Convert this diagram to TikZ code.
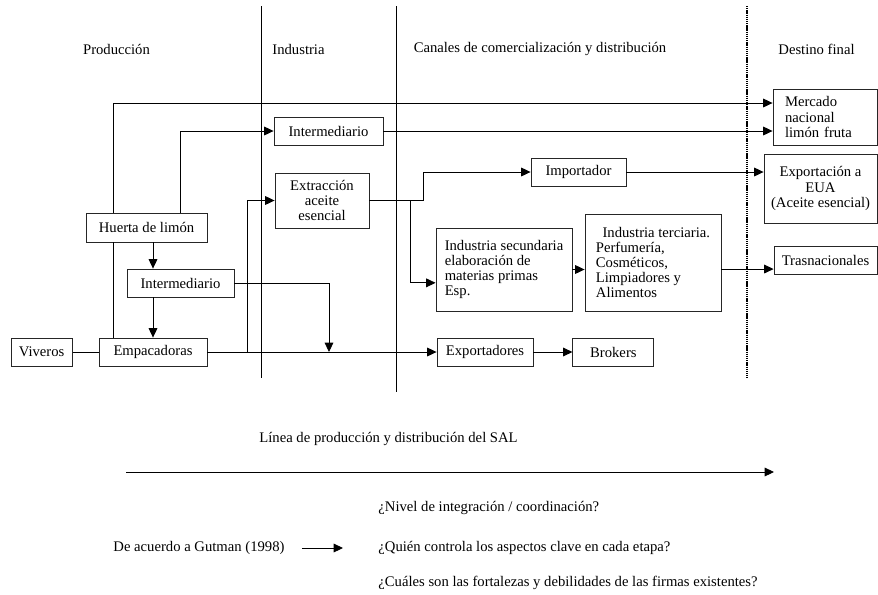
\documentclass[tikz,border=0pt]{standalone}
\usepackage{fontspec}
\setmainfont{Liberation Serif}
\usetikzlibrary{arrows.meta,
calc,
positioning}

\begin{document}
\begin{tikzpicture} [x = 0.75pt, y = -0.75pt,
  >={Triangle[width = 6.5pt, length = 7pt]},
  line width = 0.65pt,
  font = \fontsize{11}{11.3}\selectfont,
  box/.style={rectangle, draw = black!85, fill = white,
      inner sep = 2pt, minimum height = 21pt},
  multi/.style={box, align = left},
  lbl/.style={inner sep = 0pt, anchor = west}]

  \useasboundingbox (0,0) rectangle (878,594);

  % etapas
  \node [] (prod) at (116.5,49) {Producción};
  \node [] (ind) at (298.5,49) {Industria};
  \node [] (canal) at (540,49) {Canales de comercialización y distribución};
  \node [] (dest) at (816.5,49) {Destino final};

  \draw (261,6) -- (261,378);
  \draw (396,6) -- (396,392);
  \draw [line width = 1.3pt, dash pattern = on 1pt off 0.6pt] (747,6) -- (747,378);

  \node [box,
    minimum width = 81.75pt
  ] (inter1) at (328.5,131) {Intermediario};

  \node [box,
    align = center,
    minimum width = 70.5pt,
    minimum height = 41.25pt
  ] (extr) at (322,200.5) {Extracción\\aceite\\esencial};

  \node [box,
    minimum width = 90.75pt,
    minimum height = 21.75pt
  ] (huerta) at (146.5,227.5) {Huerta de limón};

  \node [box,
    minimum width = 80.25pt
  ] (inter2) at (180.5,283) {Intermediario};

  \node [box,
    minimum width = 81pt
  ] (empac) at (153,352) {Empacadoras};

  \node [box,
    minimum width = 45.75pt,
    left = 19.5pt of empac
  ] (viveros) {Viveros};

  \node [box,
    minimum width = 71.25pt
  ] (impor) at (578.5,172) {Importador};

  \node [multi,
    minimum width = 102pt,
    minimum height = 62.25pt
  ] (secund) at (504,269.5) {Industria secundaria\\elaboración de\\materias primas\\Esp.};

  \node [multi,
    minimum width = 102pt,
    minimum height = 72.75pt
  ] (terc) at (653,262.5) {\hspace*{5pt}Industria terciaria.\\Perfumería,\\Cosméticos,\\Limpiadores y\\Alimentos};

  \node [box,
    minimum width = 72pt
  ] (export) at (485,352) {Exportadores};

  \node [box,
    minimum width = 60.75pt,
    right = 29.25pt of export
  ] (brokers) {Brokers};

  % destino final
  \node [multi,
    text width = 60pt,
    inner xsep = 9pt,
    minimum height = 42pt
  ] (mercado) at (825,117) {Mercado\\nacional\\limón fruta};

  \node [box,
    align = center,
    minimum width = 84.75pt,
    minimum height = 51.75pt
  ] (eua) at (820.5,188.5) {Exportación a\\EUA\\(Aceite esencial)};

  \node [box,
    minimum width = 77.25pt
  ] (trasn) at (825.5,260) {Trasnacionales};

  \coordinate (cA) at (113,0);
  \coordinate (cB) at (153,0);
  \coordinate (cC) at (180,0);
  \coordinate (cD) at (247,0);
  \coordinate (cE) at (329,0);
  \coordinate (cF) at (410,0);
  \coordinate (cG) at (423,0);

  \draw (empac.north -| cA) -- (huerta.south -| cA);
  \draw [->] (huerta.north -| cA) |- ([yshift = 10.5pt]mercado.west);
  \draw [->] (huerta.north -| cC) |- (inter1.west);
  \draw [->] (inter1.east) -- (inter1.east -| mercado.west);

  \draw [->] (huerta.south -| cB) -- (inter2.north -| cB);
  \draw [->] (inter2.south -| cB) -- (empac.north -| cB);
  \draw (viveros) -- (empac);
  \draw [->] (empac.east) -- (export.west);
  \draw [->] (inter2.east) -| (empac.east -| cE);
  \draw [->] (empac.east -| cD) |- (extr.west);

  \draw [->] (extr.east) -| (impor.west -| cG) -- (impor.west);
  \draw [->] (extr.east -| cF) |- ([yshift = -10pt]secund.west);
  \draw [->] (secund.east) -- (secund.east -| terc.west);
  \draw [->] ([yshift = -4.9pt]terc.east) -- ([yshift = -4.9pt]terc.east -| trasn.west);
  \draw [->] (impor.east) -- (impor.east -| eua.west);
  \draw [->] (export) -- (brokers);

  % linea del SAL
  \node [lbl] (linea) at (259,439) {Línea de producción y distribución del SAL};
  \coordinate (ini) at (126,472);
  \coordinate (fin) at (774,472);
  \draw [->] (ini) -- (fin);

  \node [lbl] (q1) at (378,508) {¿Nivel de integración / coordinación?};
  \node [lbl] (gut) at (113,548) {De acuerdo a Gutman (1998)};
  \node [lbl] (q2) at (378,548) {¿Quién controla los aspectos clave en cada etapa?};
  \node [lbl] (q3) at (378,583) {¿Cuáles son las fortalezas y debilidades de las firmas existentes?};
  \draw [->] ([xshift = 12.75pt]gut.east) -- ([xshift = -26.25pt]q2.west);

\end{tikzpicture}
\end{document}
